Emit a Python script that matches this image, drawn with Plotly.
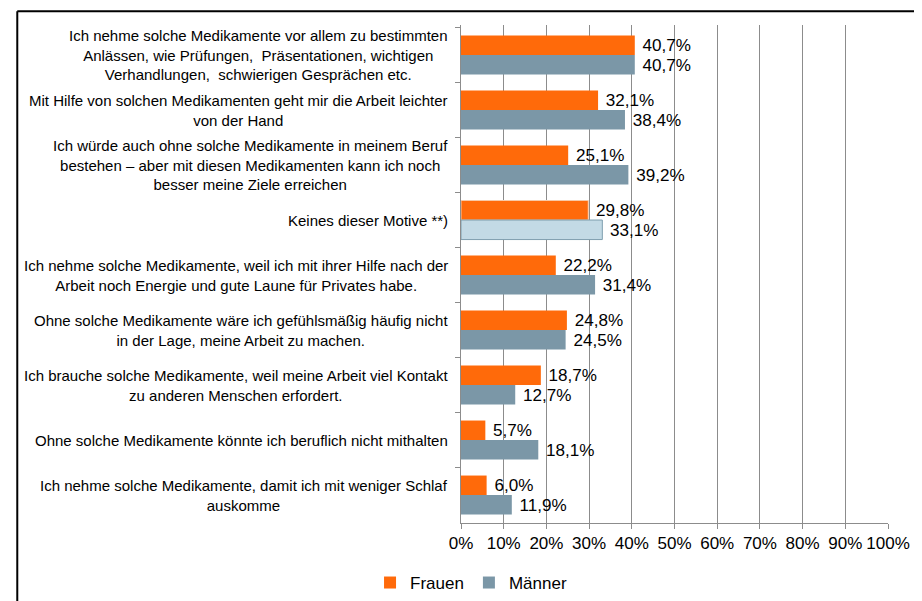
import plotly.graph_objects as go

categories = [
    "Ich nehme solche Medikamente vor allem zu bestimmten<br>Anlässen, wie Prüfungen,  Präsentationen, wichtigen<br>Verhandlungen,  schwierigen Gesprächen etc.",
    "Mit Hilfe von solchen Medikamenten geht mir die Arbeit leichter<br>von der Hand",
    "Ich würde auch ohne solche Medikamente in meinem Beruf<br>bestehen – aber mit diesen Medikamenten kann ich noch<br>besser meine Ziele erreichen",
    "Keines dieser Motive **)",
    "Ich nehme solche Medikamente, weil ich mit ihrer Hilfe nach der<br>Arbeit noch Energie und gute Laune für Privates habe.",
    "Ohne solche Medikamente wäre ich gefühlsmäßig häufig nicht<br>in der Lage, meine Arbeit zu machen.",
    "Ich brauche solche Medikamente, weil meine Arbeit viel Kontakt<br>zu anderen Menschen erfordert.",
    "Ohne solche Medikamente könnte ich beruflich nicht mithalten",
    "Ich nehme solche Medikamente, damit ich mit weniger Schlaf<br>auskomme",
]
frauen = [40.7, 32.1, 25.1, 29.8, 22.2, 24.8, 18.7, 5.7, 6.0]
maenner = [40.7, 38.4, 39.2, 33.1, 31.4, 24.5, 12.7, 18.1, 11.9]
x_ticks = [0, 10, 20, 30, 40, 50, 60, 70, 80, 90, 100]
x_ticktext = [f"{v}%" for v in x_ticks]
special = "Keines dieser Motive **)"

ORANGE = "#FF6A0A"
GRAY = "#7B97A7"
LIGHT = "#C3DAE5"

# page body has an 8px default margin, so the figure is 8px smaller
OFF = 8
W, H = 922 - OFF, 601 - OFF
ML, MR, MT, MB = 461 - OFF, 27, 25 - OFF, 70
font_family = "Liberation Sans, Arial, sans-serif"

f_colors = [ORANGE for c in categories]
f_lcol = ["#F7C9A8" if c == special else ORANGE for c in categories]
f_lw = [1 if c == special else 0 for c in categories]
m_colors = [LIGHT if c == special else GRAY for c in categories]
m_lcol = ["#7F9FAF" if c == special else GRAY for c in categories]
m_lw = [1 if c == special else 0 for c in categories]

fig = go.Figure()
fig.add_trace(go.Bar(
    name="Frauen", y=categories, x=frauen, orientation="h",
    marker=dict(color=f_colors, line=dict(color=f_lcol, width=f_lw)),
    texttemplate="\u00a0%{x:.1f}%", textposition="outside",
    textfont=dict(size=17.5, color="#000000"), cliponaxis=False,
))
fig.add_trace(go.Bar(
    name="Männer", y=categories, x=maenner, orientation="h",
    marker=dict(color=m_colors, line=dict(color=m_lcol, width=m_lw)),
    texttemplate="\u00a0%{x:.1f}%", textposition="outside",
    textfont=dict(size=17.5, color="#000000"), cliponaxis=False,
))

for c in categories:
    fig.add_annotation(
        x=0, y=c, xref="x", yref="y", text=c, showarrow=False,
        xanchor="right", yanchor="middle", align="center", xshift=-11,
        font=dict(size=15, color="#000000", family=font_family),
    )

pw = W - ML - MR
ph = H - MT - MB
FX, FY = 2, 3  # frame corner in figure pixels
fx = (FX - ML) / pw
fy = 1 + (MT - FY) / ph
# cropped black frame (left and top edges)
fig.add_shape(type="line", xref="paper", yref="paper",
              x0=fx, x1=fx, y0=fy, y1=-(MB + 10) / ph,
              line=dict(color="#000000", width=2))
fig.add_shape(type="line", xref="paper", yref="paper",
              x0=fx, x1=(W + 10 - ML) / pw, y0=fy, y1=fy,
              line=dict(color="#000000", width=2))

fig.update_layout(
    width=W, height=H,
    margin=dict(l=ML, r=MR, t=MT, b=MB),
    paper_bgcolor="white", plot_bgcolor="white",
    barmode="group", bargap=0.29, bargroupgap=0,
    separators=",.",
    font=dict(family=font_family, size=17, color="#000000"),
    showlegend=True,
    legend=dict(orientation="h", x=0.5066, xref="container", xanchor="center",
                y=0.0304, yref="container", yanchor="middle",
                font=dict(size=17), itemwidth=30, traceorder="normal"),
    xaxis=dict(range=[0, 100], tickvals=x_ticks, ticktext=x_ticktext,
               showgrid=True, gridcolor="#8C8C8C", gridwidth=1,
               showline=True, linecolor="#8C8C8C", linewidth=1,
               ticks="outside", ticklen=5, tickcolor="#8C8C8C",
               tickfont=dict(size=17), zeroline=False, fixedrange=True),
    yaxis=dict(autorange="reversed", type="category", showticklabels=False,
               showline=True, linecolor="#8C8C8C", linewidth=1,
               ticks="outside", ticklen=5, tickcolor="#8C8C8C",
               tickson="boundaries", showgrid=False, fixedrange=True),
)

fig.write_html("out.html")
